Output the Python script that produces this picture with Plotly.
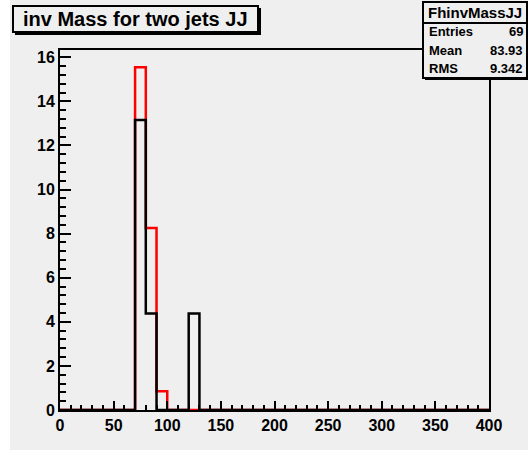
import plotly.graph_objects as go

# ---- data ----
bin_width = 10
x_min, x_max = 0, 400
filled_bin_low_edges = [70, 80, 90, 120]
red_counts = [15.55, 8.25, 0.85, 0.0]
black_counts = [13.15, 4.38, 0.0, 4.38]

title_text = "inv Mass for two jets JJ"
stats_name = "FhinvMassJJ"
stats_labels = ["Entries", "Mean", "RMS"]
stats_values = ["69", "83.93", "9.342"]

W, H = 528, 452
L, R, T, B = 60, 489, 50, 410  # plot-area pixel box
BG = "#efefef"
FONT = "Liberation Sans, Arial, sans-serif"


def full_hist(counts):
    nb = (x_max - x_min) // bin_width
    vals = [0.0] * nb
    for lo, c in zip(filled_bin_low_edges, counts):
        vals[(lo - x_min) // bin_width] = c
    edges = [x_min + i * bin_width for i in range(nb + 1)]
    return edges, vals + [0.0]


def px(x):
    return (x - L) / (R - L)


def py(y):
    return (B - y) / (B - T)


fig = go.Figure()
for counts, col in [(red_counts, "#ff0000"), (black_counts, "#000000")]:
    ex, ey = full_hist(counts)
    fig.add_trace(go.Scatter(x=ex, y=ey, mode="lines", line=dict(color=col, width=2.5, shape="hv"),
                             hoverinfo="skip", showlegend=False, cliponaxis=True))

ymax = max(red_counts + black_counts) * 1.05

shapes = [
    dict(type="rect", xref="paper", yref="paper", x0=px(10), x1=px(W), y0=py(0), y1=py(450),
         fillcolor=BG, line=dict(width=0), layer="below"),
    # title box shadow + box
    dict(type="rect", xref="paper", yref="paper", x0=px(15), x1=px(261), y0=py(8), y1=py(35),
         fillcolor="black", line=dict(width=0)),
    dict(type="rect", xref="paper", yref="paper", x0=px(13), x1=px(258), y0=py(6), y1=py(32),
         fillcolor=BG, line=dict(color="black", width=2)),
    # stats box shadow + box
    dict(type="rect", xref="paper", yref="paper", x0=px(425), x1=px(529), y0=py(4), y1=py(80),
         fillcolor="black", line=dict(width=0)),
    dict(type="rect", xref="paper", yref="paper", x0=px(423), x1=px(527), y0=py(2), y1=py(78),
         fillcolor=BG, line=dict(color="black", width=2)),
    dict(type="line", xref="paper", yref="paper", x0=px(423), x1=px(527), y0=py(23), y1=py(23),
         line=dict(color="black", width=2)),
]

annotations = [
    dict(text="<b>%s</b>" % title_text, xref="paper", yref="paper", x=px(135.5), y=py(19),
         xanchor="center", yanchor="middle", showarrow=False, font=dict(size=20, family=FONT, color="black")),
    dict(text="<b>%s</b>" % stats_name, xref="paper", yref="paper", x=px(475), y=py(12.5),
         xanchor="center", yanchor="middle", showarrow=False, font=dict(size=15, family=FONT, color="black")),
]
row_y = [32, 50, 68]
for lab, val, yy in zip(stats_labels, stats_values, row_y):
    annotations.append(dict(text="<b>%s</b>" % lab, xref="paper", yref="paper", x=px(427), y=py(yy),
                            xanchor="left", yanchor="middle", showarrow=False,
                            font=dict(size=13, family=FONT, color="black")))
    annotations.append(dict(text="<b>%s</b>" % val, xref="paper", yref="paper", x=px(525), y=py(yy),
                            xanchor="right", yanchor="middle", showarrow=False,
                            font=dict(size=13, family=FONT, color="black")))

fig.update_layout(
    width=W, height=H,
    margin=dict(l=L, r=W - R, t=T, b=H - B, pad=0),
    paper_bgcolor="white", plot_bgcolor=BG,
    shapes=shapes, annotations=annotations,
    font=dict(family=FONT, color="black"),
    xaxis=dict(range=[x_min, x_max], tickmode="linear", tick0=0, dtick=50,
               ticks="inside", ticklen=9, tickwidth=2, tickcolor="black",
               showline=True, linecolor="black", linewidth=2, mirror=True,
               showgrid=False, zeroline=False,
               tickfont=dict(size=16, family=FONT, color="black", weight="bold"),
               minor=dict(dtick=10, tick0=0, ticks="inside", ticklen=5, tickwidth=2, tickcolor="black", showgrid=False)),
    yaxis=dict(range=[0, ymax], tickmode="linear", tick0=0, dtick=2,
               ticks="inside", ticklen=11, tickwidth=2, tickcolor="black",
               showline=True, linecolor="black", linewidth=2, mirror=True,
               showgrid=False, zeroline=False,
               tickfont=dict(size=16, family=FONT, color="black", weight="bold"),
               minor=dict(dtick=0.4, tick0=0, ticks="inside", ticklen=6, tickwidth=2, tickcolor="black", showgrid=False)),
)

fig.write_html("out.html")
